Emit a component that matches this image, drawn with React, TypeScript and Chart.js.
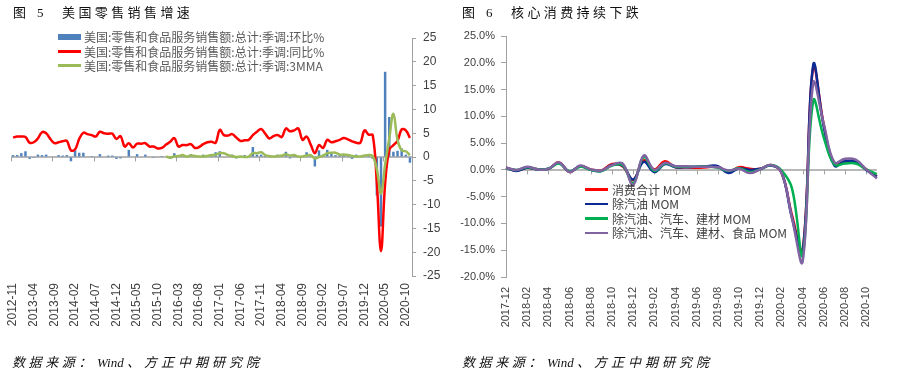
import React, { useEffect, useRef } from 'react';
import { Chart, registerables } from 'chart.js';

Chart.register(...registerables);

function monthLabels(startYear: number, startMonth: number, count: number): string[] {
  const out: string[] = [];
  let y = startYear;
  let m = startMonth;
  for (let i = 0; i < count; i++) {
    out.push(`${y}-${m < 10 ? '0' + m : m}`);
    m++;
    if (m > 12) { m = 1; y++; }
  }
  return out;
}

// ---------- Figure 5 data: US retail & food services sales (2012-11 .. 2020-11) ----------
const retailMonths = monthLabels(2012, 11, 97);
const retailTickStep = 5;

const retailSeriesNames = [
  '美国:零售和食品服务销售额:总计:季调:环比%',
  '美国:零售和食品服务销售额:总计:季调:同比%',
  '美国:零售和食品服务销售额:总计:季调:3MMA',
];

const retailMoM = [
  0.4, 0.4, 0.8, 1.2, -0.4, -0.2, 0.5, 0.4, 0.5, 0.1,
  0.1, 0.4, 0.3, 0.4, -0.9, 1.4, 0.9, 0.9, 0.1, 0.2,
  0.1, 0.6, -0.1, 0.3, 0.3, -0.4, -0.3, 0.1, 1.5, 0.1,
  0.6, 0.0, 0.5, 0.1, -0.2, 0.1, 0.2, 0.0, -0.4, 0.8,
  0.1, 0.2, 0.1, 0.6, -0.1, -0.1, 0.5, 0.3, 0.3, 1.0,
  1.2, 0.1, -0.1, 0.5, -0.3, 0.0, 0.4, -0.1, 2.1, 0.5,
  0.5, 0.3, -0.1, 0.1, 0.5, 0.2, 1.1, -0.3, 0.4, 0.1,
  -0.1, 1.0, 0.2, -2.0, 1.4, 0.5, 1.5, 0.8, 0.4, 0.4,
  0.6, 0.3, -0.4, 0.5, 0.2, 0.3, 0.6, -0.4, -8.1, -14.6,
  17.9, 8.4, 1.1, 1.3, 1.8, 0.5, -1.2,
];

const retailYoY = [
  4.1, 4.3, 4.3, 4.2, 3.0, 3.1, 3.9, 5.2, 5.0, 3.8,
  2.9, 3.1, 3.3, 3.4, 1.4, 1.6, 3.8, 5.1, 4.8, 4.6,
  4.3, 5.3, 5.0, 4.9, 4.9, 3.8, 4.4, 2.2, 2.9, 2.0,
  2.8, 2.8, 2.9, 2.2, 2.2, 1.8, 1.9, 2.6, 3.2, 4.0,
  2.2, 2.5, 2.5, 2.7, 1.9, 2.1, 2.7, 3.1, 3.2, 3.0,
  5.7, 4.6, 4.5, 4.8, 4.1, 3.4, 3.5, 3.6, 4.6, 5.3,
  5.9, 4.9, 3.9, 4.4, 4.6, 4.2, 6.0, 5.4, 5.6, 6.0,
  3.6, 4.3, 2.6, 0.8, 2.5, 1.9, 3.6, 3.1, 3.3, 3.6,
  4.0, 3.7, 3.3, 3.0, 3.0, 5.6, 4.7, 4.6, -5.5, -19.8,
  -5.6, 1.5, 2.5, 3.4, 5.8, 5.6, 4.0,
];

const retail3MMA = [
  null, null, null, null, null, null, null, null, null, null,
  null, null, null, null, null, null, null, null, null, null,
  null, null, null, null, null, null, null, null, null, null,
  null, null, null, null, null, null, null, 0.1, -0.1, 0.1,
  0.2, 0.4, 0.1, 0.3, 0.2, 0.1, 0.1, 0.2, 0.4, 0.5,
  0.8, 0.8, 0.4, 0.2, 0.0, 0.1, 0.0, 0.1, 0.8, 0.8,
  1.0, 0.4, 0.2, 0.1, 0.2, 0.3, 0.6, 0.3, 0.4, 0.1,
  0.1, 0.3, 0.4, -0.3, 0.0, 0.3, 0.8, 0.9, 0.9, 0.5,
  0.5, 0.4, 0.2, 0.1, 0.1, 0.3, 0.4, 0.2, -2.6, -7.7,
  -1.6, 3.9, 9.1, 3.6, 1.4, 1.2, 0.4,
];

// ---------- Figure 6 data: core consumption MoM (2017-12 .. 2020-11) ----------
const coreMonths = monthLabels(2017, 12, 36);
const coreTickStep = 2;

const coreSeriesNames = [
  '消费合计 MOM',
  '除汽油 MOM',
  '除汽油、汽车、建材 MOM',
  '除汽油、汽车、建材、食品 MOM',
];

const totalMoM = [
  0.4, -0.1, 0.4, 0.1, 0.2, 1.4, -0.4, 0.7, 0.1, -0.1,
  1.1, 0.7, -1.9, 1.8, 0.1, 1.6, 0.5, 0.5, 0.4, 0.5,
  0.6, -0.4, 0.5, 0.2, 0.2, 0.9, -0.5, -8.5, -15.0, 19.2,
  8.4, 1.0, 1.6, 1.5, 0.1, -1.2,
];
const exGasMoM = [
  0.4, -0.2, 0.4, 0.1, 0.2, 1.3, -0.3, 0.7, 0.0, -0.2,
  0.9, 0.8, -1.8, 1.5, -0.4, 1.1, 0.5, 0.5, 0.6, 0.7,
  0.7, -0.6, 0.3, 0.0, 0.2, 0.8, -0.4, -9.0, -15.3, 19.6,
  8.0, 0.8, 1.6, 1.5, 0.0, -1.3,
];
const exGasAutoBldgMoM = [
  0.3, 0.0, 0.5, 0.1, 0.2, 1.2, -0.3, 0.6, 0.0, -0.2,
  0.8, 0.9, -2.5, 2.4, -0.2, 1.2, 0.6, 0.6, 0.6, 0.6,
  0.4, -0.2, 0.3, -0.4, 0.1, 0.9, -0.1, -3.5, -15.9, 12.9,
  6.0, 1.0, 1.2, 1.2, 0.1, -0.8,
];
const exGasAutoBldgFoodMoM = [
  0.4, 0.0, 0.6, 0.1, 0.2, 1.4, -0.4, 0.8, 0.1, -0.1,
  0.9, 1.2, -2.8, 2.7, 0.0, 1.3, 0.7, 0.7, 0.6, 0.6,
  0.5, -0.1, 0.2, -0.6, 0.1, 0.9, -0.5, -9.0, -17.1, 16.2,
  8.5, 1.4, 2.1, 1.9, 0.1, -1.6,
];

const AXIS_GREY = '#A0A0A0';
const TICK_TEXT = '#404040';

function zeroAxisPlugin(step: number, boundary: boolean) {
  return {
    id: 'zeroAxis',
    beforeDatasetsDraw(chart: any) {
      const { ctx, chartArea, scales } = chart;
      const y0 = scales.y.getPixelForValue(0);
      const xs = scales.x;
      const n = chart.data.labels.length;
      const half = boundary ? (xs.getPixelForValue(1) - xs.getPixelForValue(0)) / 2 : 0;
      ctx.save();
      ctx.strokeStyle = AXIS_GREY;
      ctx.lineWidth = 1.5;
      ctx.beginPath();
      ctx.moveTo(chartArea.left, y0);
      ctx.lineTo(chartArea.right, y0);
      ctx.stroke();
      ctx.lineWidth = 1;
      ctx.beginPath();
      for (let i = 0; i < n; i += step) {
        const px = Math.round(xs.getPixelForValue(i) - half) + 0.5;
        ctx.moveTo(px, y0);
        ctx.lineTo(px, y0 + 4.5);
      }
      ctx.stroke();
      ctx.restore();
    },
  };
}

function RetailChart() {
  const ref = useRef<HTMLCanvasElement>(null);
  useEffect(() => {
    if (!ref.current) return;
    const chart = new Chart(ref.current, {
      type: 'bar',
      data: {
        labels: retailMonths,
        datasets: [
          {
            type: 'bar',
            label: retailSeriesNames[0],
            data: retailMoM,
            backgroundColor: '#4F81BD',
            barPercentage: 0.6,
            categoryPercentage: 1,
            order: 2,
          },
          {
            type: 'line',
            label: retailSeriesNames[1],
            data: retailYoY,
            borderColor: '#FF0000',
            borderWidth: 2.5,
            pointRadius: 0,
            tension: 0.4,
            order: 1,
          },
          {
            type: 'line',
            label: retailSeriesNames[2],
            data: retail3MMA as any,
            borderColor: '#9BBB59',
            borderWidth: 2.5,
            pointRadius: 0,
            tension: 0.4,
            order: 0,
          },
        ] as any,
      },
      options: {
        responsive: false,
        animation: false,
        devicePixelRatio: 1,
        layout: { padding: { left: 11, top: 38, right: 8, bottom: 51 } },
        plugins: { legend: { display: false }, tooltip: { enabled: false } },
        scales: {
          x: {
            offset: true,
            grid: { display: false, drawTicks: false },
            border: { display: false },
            ticks: {
              autoSkip: false,
              maxRotation: 90,
              minRotation: 90,
              padding: 7,
              color: TICK_TEXT,
              font: { family: 'Liberation Sans', size: 12 },
              callback: (_v: any, i: number) => (i % retailTickStep === 0 ? retailMonths[i] : ''),
            },
            afterFit: (s: any) => { s.height = 50; },
          },
          y: {
            position: 'right',
            min: -25,
            max: 25,
            ticks: {
              stepSize: 5,
              padding: 7,
              color: TICK_TEXT,
              font: { family: 'Liberation Sans', size: 12 },
            },
            grid: { drawOnChartArea: false, drawTicks: true, tickLength: 4, color: AXIS_GREY },
            border: { display: true, color: AXIS_GREY },
            afterFit: (s: any) => { s.width = 30; },
          },
        },
      } as any,
      plugins: [zeroAxisPlugin(10, true)],
    });
    return () => chart.destroy();
  }, []);
  return <canvas ref={ref} width={450} height={377} />;
}

function CoreChart() {
  const ref = useRef<HTMLCanvasElement>(null);
  useEffect(() => {
    if (!ref.current) return;
    const colors = ['#FF0000', '#0B2A94', '#00B050', '#8064A2'];
    const series = [totalMoM, exGasMoM, exGasAutoBldgMoM, exGasAutoBldgFoodMoM];
    const chart = new Chart(ref.current, {
      type: 'line',
      data: {
        labels: coreMonths,
        datasets: series.map((d, k) => ({
          label: coreSeriesNames[k],
          data: d,
          borderColor: colors[k],
          borderWidth: 2.5,
          pointRadius: 0,
          tension: 0.4,
          order: 3 - k,
        })),
      },
      options: {
        responsive: false,
        animation: false,
        devicePixelRatio: 1,
        layout: { padding: { left: 6, top: 36, right: 19, bottom: 50 } },
        plugins: { legend: { display: false }, tooltip: { enabled: false } },
        scales: {
          x: {
            offset: false,
            grid: { display: false, drawTicks: false },
            border: { display: false },
            ticks: {
              autoSkip: false,
              maxRotation: 90,
              minRotation: 90,
              padding: 10,
              color: TICK_TEXT,
              font: { family: 'Liberation Sans', size: 11 },
              callback: (_v: any, i: number) => (i % coreTickStep === 0 ? coreMonths[i] : ''),
            },
            afterFit: (s: any) => { s.height = 50; },
          },
          y: {
            position: 'left',
            min: -20,
            max: 25,
            ticks: {
              stepSize: 5,
              padding: 6,
              color: TICK_TEXT,
              font: { family: 'Liberation Sans', size: 11 },
              callback: (v: any) => `${Number(v).toFixed(1)}%`,
            },
            grid: { drawOnChartArea: false, drawTicks: true, tickLength: 5, color: AXIS_GREY },
            border: { display: true, color: AXIS_GREY },
            afterFit: (s: any) => { s.width = 50; },
          },
        },
      } as any,
      plugins: [zeroAxisPlugin(coreTickStep, false)],
    });
    return () => chart.destroy();
  }, []);
  return <canvas ref={ref} width={450} height={377} />;
}

const CJK = '"Liberation Serif", "Noto Sans CJK SC", serif';
const SANS_CJK = '"Noto Sans CJK SC", "Liberation Sans", sans-serif';

function abs(left: number, top: number, extra: React.CSSProperties = {}): React.CSSProperties {
  return { position: 'absolute', left, top, whiteSpace: 'nowrap', ...extra };
}

function Title({ x, num, text }: { x: number; num: string; text: string }) {
  const base: React.CSSProperties = { fontFamily: CJK, fontSize: 13, lineHeight: '13px', color: '#111' };
  return (
    <>
      <span style={abs(x, 6, base)}>图</span>
      <span style={abs(x + 24, 6, base)}>{num}</span>
      <span style={abs(x + 49, 6, { ...base, letterSpacing: '3.4px' })}>{text}</span>
    </>
  );
}

function Source({ x }: { x: number }) {
  const base: React.CSSProperties = {
    fontFamily: CJK, fontSize: 13, lineHeight: '13px', color: '#111', fontStyle: 'italic',
  };
  return (
    <>
      <span style={abs(x, 356, { ...base, letterSpacing: '3.6px' })}>数据来源：</span>
      <span style={abs(x + 85, 356, base)}>Wind</span>
      <span style={abs(x + 115, 356, { ...base, letterSpacing: '4px' })}>、方正中期研究院</span>
    </>
  );
}

export default function App() {
  const legendText: React.CSSProperties = { fontFamily: SANS_CJK, fontSize: 12, lineHeight: '14px' };
  const leftLegendY = [37, 51.5, 65.5];
  const rightLegendY = [189.5, 204, 218.5, 233];
  const rightColors = ['#FF0000', '#0B2A94', '#00B050', '#8064A2'];
  return (
    <div style={{ position: 'fixed', left: 0, top: 0, width: 900, height: 377, background: '#fff', overflow: 'hidden' }}>
      <div style={abs(0, 0)}><RetailChart /></div>
      <div style={abs(450, 0)}><CoreChart /></div>

      <Title x={13} num="5" text="美国零售销售增速" />
      <Title x={462} num="6" text="核心消费持续下跌" />
      <Source x={12} />
      <Source x={462} />

      {/* left legend */}
      <div style={abs(58, leftLegendY[0] - 3, { width: 23, height: 6, background: '#4F81BD' })} />
      <div style={abs(58, leftLegendY[1] - 1.25, { width: 23, height: 2.5, background: '#FF0000' })} />
      <div style={abs(58, leftLegendY[2] - 1.25, { width: 23, height: 2.5, background: '#9BBB59' })} />
      {retailSeriesNames.map((n, k) => (
        <span key={n} style={abs(84, leftLegendY[k] - 7, { ...legendText, color: '#595959' })}>{n}</span>
      ))}

      {/* right legend */}
      {coreSeriesNames.map((n, k) => (
        <React.Fragment key={n}>
          <div style={abs(585, rightLegendY[k] - 1.25, { width: 23, height: 2.5, background: rightColors[k] })} />
          <span style={abs(612, rightLegendY[k] - 7, { ...legendText, color: '#404040' })}>{n}</span>
        </React.Fragment>
      ))}
    </div>
  );
}
